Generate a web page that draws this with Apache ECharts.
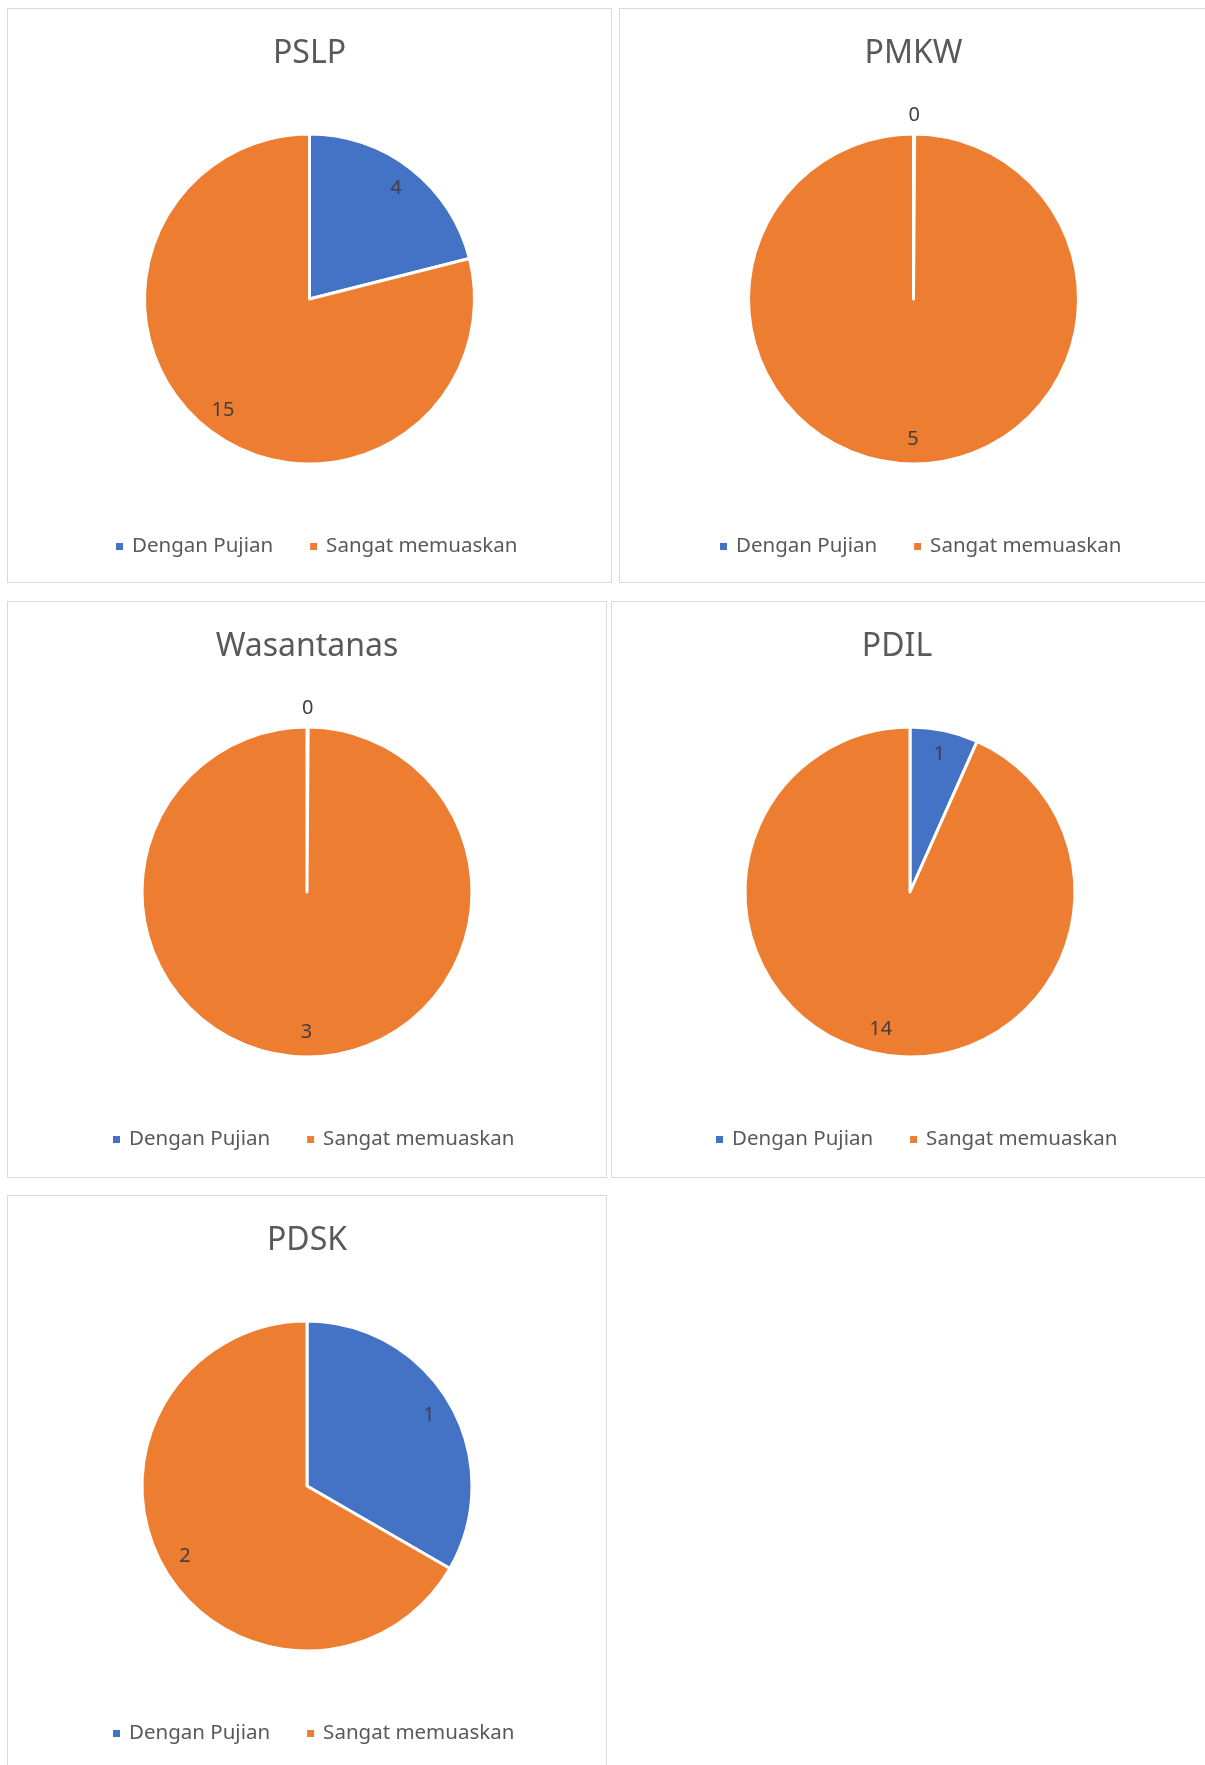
<!DOCTYPE html>
<html>
<head>
<meta charset="utf-8">
<title>Pie charts</title>
<script src="https://cdn.jsdelivr.net/npm/echarts@6/dist/echarts.min.js"></script>
<style>
  html, body {
    margin: 0;
    padding: 0;
    background: #fff;
    width: 1205px;
    height: 1765px;
    overflow: hidden;
    position: relative;
  }
  .panel {
    position: absolute;
    box-sizing: border-box;
    border: 1px solid #d9d9d9;
    background: #fff;
  }
  .panel .chart {
    width: 100%;
    height: 100%;
  }
  #p1 { left: 7px; top: 8px; width: 605px; height: 575px; }
  #p2 { left: 619px; top: 8px; width: 589px; height: 575px; }
  #p3 { left: 7px; top: 601px; width: 600px; height: 577px; }
  #p4 { left: 611px; top: 601px; width: 598px; height: 577px; }
  #p5 { left: 7px; top: 1195px; width: 600px; height: 577px; }
</style>
</head>
<body>
<div class="panel" id="p1"><div class="chart"></div></div>
<div class="panel" id="p2"><div class="chart"></div></div>
<div class="panel" id="p3"><div class="chart"></div></div>
<div class="panel" id="p4"><div class="chart"></div></div>
<div class="panel" id="p5"><div class="chart"></div></div>
<script>
// data
const titles = ['PSLP', 'PMKW', 'Wasantanas', 'PDIL', 'PDSK']
const categories = ['Dengan Pujian', 'Sangat memuaskan']
const denganPujian = [4, 0, 0, 1, 1]
const sangatMemuaskan = [15, 5, 3, 14, 2]

const colors = ['#4472C4', '#ED7D31']
const fontFamily = '"Noto Sans", "Open Sans", sans-serif'
const R = 165
const legendFontSize = 20.5
const legendIcon = 9
const legendGap = 35
// PDIL title sits a bit left of its pie in the original
const titleShift = [0, 0, 0, -13, 0]

// rough legend width, so it can be nudged right of centre like the original
function legendWidth () {
  const ctx = document.createElement('canvas').getContext('2d')
  ctx.font = legendFontSize + 'px ' + fontFamily
  let w = 0
  categories.forEach(name => {
    w += legendIcon + 5 + 3 + ctx.measureText(name).width
  })
  return w + legendGap * (categories.length - 1)
}

function drawPie (el, idx) {
  const myChart = echarts.init(el)
  const values = [denganPujian[idx], sangatMemuaskan[idx]]
  const data = categories.map((name, i) => ({ name: name, value: values[i] }))
  // second (transparent) ring only carries the labels, so they sit ~0.83 R out like Excel's
  const labelData = categories.map((name, i) => ({
    name: name,
    value: values[i],
    label: values[i] === 0
      ? { position: 'outside', distanceToLabelLine: 0 }
      : { position: 'inside' },
    labelLine: { show: false, length: 19, length2: 0 }
  }))
  const option = {
    color: colors,
    animation: false,
    title: {
      text: titles[idx],
      left: myChart.getWidth() / 2 + titleShift[idx],
      textAlign: 'center',
      top: 29,
      padding: 0,
      textStyle: {
        color: '#595959',
        fontFamily: fontFamily,
        fontSize: 32,
        fontWeight: 'normal'
      }
    },
    legend: {
      data: categories,
      left: Math.round(myChart.getWidth() / 2 - legendWidth() / 2 + 5),
      top: 527,
      padding: 0,
      icon: 'rect',
      itemWidth: legendIcon,
      itemHeight: legendIcon,
      itemGap: legendGap,
      selectedMode: false,
      textStyle: {
        color: '#595959',
        fontFamily: fontFamily,
        fontSize: legendFontSize,
        padding: [0, 0, 0, 3]
      }
    },
    series: [
      {
        name: titles[idx],
        type: 'pie',
        center: ['50%', 290],
        radius: [0, R],
        startAngle: 90,
        clockwise: true,
        // keeps a hairline sector for zero values so the white separator shows
        minAngle: 0.4,
        silent: true,
        label: { show: false },
        labelLine: { show: false },
        itemStyle: {
          borderColor: '#fff',
          borderWidth: 3
        },
        data: data
      },
      {
        name: 'labels',
        type: 'pie',
        center: ['50%', 290],
        radius: [R * 0.67, R],
        startAngle: 90,
        clockwise: true,
        minAngle: 0.4,
        silent: true,
        avoidLabelOverlap: false,
        itemStyle: {
          color: 'rgba(0,0,0,0)',
          borderWidth: 0
        },
        label: {
          show: true,
          color: '#404040',
          fontFamily: fontFamily,
          fontSize: 20,
          formatter: '{c}'
        },
        labelLayout: function (params) {
          if (params.seriesIndex === 1 && values[params.dataIndex] === 0) {
            return { align: 'center' }
          }
        },
        data: labelData
      }
    ]
  }
  myChart.setOption(option)
}

const panelIds = ['p1', 'p2', 'p3', 'p4', 'p5']
panelIds.forEach((id, i) => {
  drawPie(document.querySelector('#' + id + ' .chart'), i)
})
</script>
</body>
</html>
